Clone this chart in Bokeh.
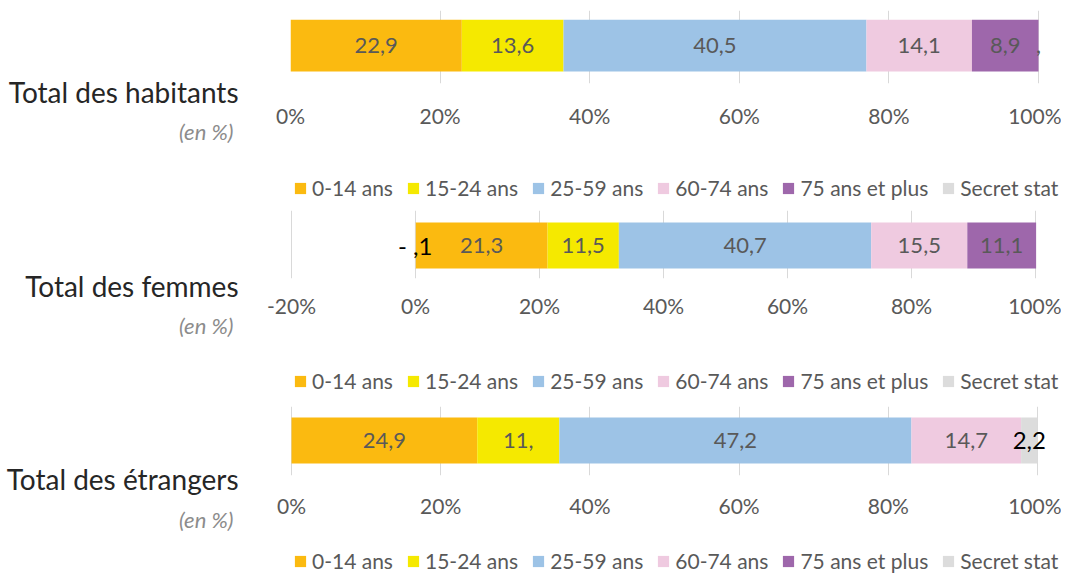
from bokeh.plotting import figure
from bokeh.models import Range1d, Legend, LegendItem, ColumnDataSource, FixedTicker
from bokeh.layouts import column, row
from bokeh.embed import file_html
from bokeh.resources import INLINE
from bokeh.core.properties import value

# ---------------- data ----------------
categories = ["0-14 ans", "15-24 ans", "25-59 ans", "60-74 ans", "75 ans et plus", "Secret stat"]
colors = ["#FBBA10", "#F5E900", "#9DC3E6", "#EFCAE0", "#9E67AB", "#DCDCDC"]

habitants = [22.9, 13.6, 40.5, 14.1, 8.9, 0.0]
femmes = [21.3, 11.5, 40.7, 15.5, 11.1, -0.1]
etrangers = [24.9, 11.0, 47.2, 14.7, 0.0, 2.2]

habitants_labels = ["22,9", "13,6", "40,5", "14,1", "8,9", ","]
femmes_labels = ["21,3", "11,5", "40,7", "15,5", "11,1", "- ,1"]
etrangers_labels = ["24,9", "11,", "47,2", "14,7", "", "2,2"]

ticks_a = [0, 20, 40, 60, 80, 100]
ticks_a_labels = ["0%", "20%", "40%", "60%", "80%", "100%"]
ticks_b = [-20, 0, 20, 40, 60, 80, 100]
ticks_b_labels = ["-20%", "0%", "20%", "40%", "60%", "80%", "100%"]

titles = ["Total des habitants", "Total des femmes", "Total des étrangers"]
unit_text = "(en %)"

FONT = "Lato"
GRAY = "#595959"
LEFT_W = 250
COL_W = 811
B_LEFT = 40
FRAME_W = COL_W - B_LEFT
TOTAL_H = 573


def segments(vals):
    lefts, rights = [], []
    pos, neg = 0.0, 0.0
    for v in vals:
        if v >= 0:
            lefts.append(pos)
            rights.append(pos + v)
            pos += v
        else:
            rights.append(neg)
            lefts.append(neg + v)
            neg += v
    return lefts, rights


def style_blank(p):
    p.outline_line_color = None
    p.background_fill_color = None
    p.border_fill_color = None


def bars(vals, labels, ticks, tick_labels, geom, secret_color, secret_size):
    (shift_px, span_w, b_top, f_h, b_bottom, bar_y, bar_h, standoff) = geom
    xmin, xmax = ticks[0], ticks[-1]
    ppu = span_w / (xmax - xmin)
    x0 = xmin - shift_px / ppu
    p = figure(frame_width=FRAME_W, frame_height=f_h,
               min_border_left=B_LEFT, min_border_right=0,
               min_border_top=b_top, min_border_bottom=b_bottom,
               x_range=Range1d(x0, x0 + FRAME_W / ppu), y_range=Range1d(0, 1),
               output_backend="svg", toolbar_location=None,
               y_axis_location=None, x_axis_location="below")
    style_blank(p)
    p.ygrid.visible = False
    p.xgrid.ticker = FixedTicker(ticks=ticks)
    p.xgrid.grid_line_color = "#D9D9D9"
    p.xgrid.grid_line_width = 1
    ax = p.xaxis[0]
    ax.ticker = FixedTicker(ticks=ticks)
    ax.major_label_overrides = {t: l for t, l in zip(ticks, tick_labels)}
    ax.axis_line_color = None
    ax.major_tick_line_color = None
    ax.major_tick_out = 0
    ax.major_tick_in = 0
    ax.minor_tick_line_color = None
    ax.major_label_standoff = standoff
    ax.major_label_text_font = FONT
    ax.major_label_text_font_size = "21px"
    ax.major_label_text_color = GRAY

    lefts, rights = segments(vals)
    for i, cat in enumerate(categories):
        p.hbar(y=[bar_y], left=[lefts[i]], right=[rights[i]], height=bar_h,
               fill_color=colors[i], line_color=None)

    cx, ct = [], []
    for i in range(5):
        if labels[i]:
            cx.append((lefts[i] + rights[i]) / 2)
            ct.append(labels[i])
    src = ColumnDataSource(dict(x=cx, y=[bar_y] * len(cx), t=ct))
    p.text(x="x", y="y", text="t", source=src, text_align="center",
           text_baseline="middle", text_font=value(FONT),
           text_font_size="22px", text_color=GRAY)
    p.text(x=[(lefts[5] + rights[5]) / 2], y=[bar_y], text=[labels[5]],
           text_align="center", text_baseline="middle", text_font=value(FONT),
           text_font_size=secret_size, text_color=secret_color)
    return p


def legend_fig(height, loc):
    p = figure(width=COL_W, height=height, x_range=Range1d(0, 1), y_range=Range1d(0, 1),
               output_backend="svg", toolbar_location=None,
               min_border_left=B_LEFT, min_border_right=0,
               min_border_top=0, min_border_bottom=0,
               x_axis_location=None, y_axis_location=None)
    style_blank(p)
    p.grid.visible = False
    items = []
    for cat, c in zip(categories, colors):
        # legend swatch only (hidden renderer)
        r = p.hbar(y=[0.5], left=[0], right=[0], height=0, fill_color=c, line_color=None)
        r.visible = False
        items.append(LegendItem(label=cat, renderers=[r]))
    leg = Legend(items=items, orientation="horizontal", location=loc,
                 glyph_width=14, glyph_height=14, label_standoff=5, spacing=13,
                 padding=0, margin=0, border_line_color=None,
                 background_fill_alpha=0, label_text_font=FONT,
                 label_text_font_size="21px", label_text_color=GRAY,
                 label_height=20)
    p.add_layout(leg)
    return p


# geometry: px shift of first tick from frame left, width of the tick span,
#           border_top, frame h, border_bottom, bar centre, bar height, label standoff
g1 = (0, 748, 10, 73, 52, 0.52, 0.71, 19)
g2 = (1, 744, 10, 68, 52, 0.485, 0.676, 14)
g3 = (1, 746, 11, 69, 50, 0.507, 0.667, 17)

a1 = bars(habitants, habitants_labels, ticks_a, ticks_a_labels, g1, GRAY, "22px")
a2 = bars(femmes, femmes_labels, ticks_b, ticks_b_labels, g2, "#000000", "24px")
a3 = bars(etrangers, etrangers_labels, ticks_a, ticks_a_labels, g3, "#000000", "24px")
b1 = legend_fig(65, (3, 0))
b2 = legend_fig(65, (3, 2))
b3 = legend_fig(TOTAL_H - 135 - 65 - 130 - 65 - 130, (3, 0))

# left titles panel (layout coordinates in pixels, y downward)
left = figure(width=LEFT_W, height=TOTAL_H, x_range=Range1d(0, LEFT_W),
              y_range=Range1d(TOTAL_H, 0), output_backend="svg",
              toolbar_location=None, min_border=0,
              x_axis_location=None, y_axis_location=None)
left.grid.visible = False
style_blank(left)
title_x = [238, 238, 238]
title_y = [91, 285, 478]
unit_x = [233, 233, 233]
unit_y = [131, 325, 519]
left.text(x=title_x, y=title_y, text=titles, text_align="right", text_baseline="middle",
          text_font=value(FONT), text_font_size="28px", text_color="#262626")
left.text(x=unit_x, y=unit_y, text=[unit_text] * 3, text_align="right",
          text_baseline="middle", text_font=value(FONT), text_font_style="italic",
          text_font_size="22px", text_color="#8C8C8C")

layout = row(left, column(a1, b1, a2, b2, a3, b3, spacing=0), spacing=0)
open("out.html", "w").write(file_html(layout, INLINE))
